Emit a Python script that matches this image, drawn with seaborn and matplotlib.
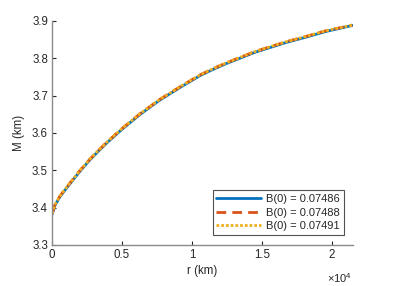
import pandas as pd
import matplotlib
matplotlib.use("Agg")
import matplotlib.pyplot as plt
import seaborn as sns
from matplotlib.ticker import FuncFormatter


# ======================================================
# DATA
# ======================================================
r_km = [0, 200, 550, 1270, 2000, 2700, 3300, 3900, 5000, 6300, 7700,
        9200, 10600, 11500, 12400, 14500, 16700, 18000, 19600, 21480]

m_b07486 = [3.382, 3.406, 3.429, 3.464, 3.498, 3.528, 3.551, 3.573, 3.610, 3.650, 3.688,
            3.723, 3.754, 3.770, 3.785, 3.816, 3.842, 3.855, 3.872, 3.888]
m_b07488 = [3.384, 3.408, 3.431, 3.466, 3.500, 3.530, 3.553, 3.575, 3.612, 3.652, 3.690,
            3.725, 3.756, 3.772, 3.787, 3.818, 3.844, 3.857, 3.874, 3.889]
m_b07491 = [3.384, 3.408, 3.431, 3.466, 3.500, 3.530, 3.553, 3.575, 3.612, 3.652, 3.690,
            3.725, 3.756, 3.772, 3.787, 3.818, 3.844, 3.857, 3.874, 3.889]

labels = ["B(0) = 0.07486", "B(0) = 0.07488", "B(0) = 0.07491"]
colors = ["#0072BD", "#D95319", "#EDB120"]

y_ticks = [3.3, 3.4, 3.5, 3.6, 3.7, 3.8, 3.9]
x_ticks = [0, 5000, 10000, 15000, 20000]


# ======================================================
# BUILD LONG TABLE
# ======================================================
def build_table():
    frames = []
    for lab, vals in zip(labels, [m_b07486, m_b07488, m_b07491]):
        frames.append(pd.DataFrame({"r": r_km, "M": vals, "series": lab}))
    return pd.concat(frames, ignore_index=True)


# ======================================================
# PLOT
# ======================================================
def plot_mass():
    sns.set_style("ticks")
    plt.rcParams["font.family"] = ["Liberation Sans", "DejaVu Sans"]
    plt.rcParams["mathtext.fontset"] = "custom"
    plt.rcParams["mathtext.rm"] = "Liberation Sans"

    df = build_table()

    fig = plt.figure(figsize=(3.99, 2.86), dpi=100)
    ax = fig.add_axes([0.1308, 0.1434, 0.7527, 0.7832])

    sns.lineplot(
        data=df, x="r", y="M", hue="series", style="series",
        palette=dict(zip(labels, colors)),
        dashes={labels[0]: "", labels[1]: (3.5, 2.2), labels[2]: (1, 0.7)},
        linewidth=2.0, ax=ax, estimator=None, sort=False,
    )

    ax.set_xlim(0, 21500)
    ax.set_ylim(3.3, 3.9)
    ax.set_yticks(y_ticks)
    ax.set_xticks(x_ticks)
    ax.xaxis.set_major_formatter(FuncFormatter(lambda v, p: f"{v / 1e4:g}"))
    ax.yaxis.set_major_formatter(FuncFormatter(lambda v, p: f"{v:.1f}"))

    grey = "#262626"
    for s in ["top", "right"]:
        ax.spines[s].set_visible(False)
    for s in ["left", "bottom"]:
        ax.spines[s].set_color("#8a8a8a")
        ax.spines[s].set_linewidth(1.0)
    ax.tick_params(direction="in", length=3, width=0.8, color=grey,
                   labelsize=8.3, labelcolor=grey, pad=3)

    ax.set_xlabel("r (km)", fontsize=8.3, color=grey, labelpad=3)
    ax.set_ylabel("M (km)", fontsize=8.3, color=grey, labelpad=5)
    ax.text(1.0, -0.118, r"$\times$10$^4$", transform=ax.transAxes,
            ha="right", va="top", fontsize=8, color=grey)

    leg = ax.legend(loc="lower right", bbox_to_anchor=(0.972, 0.045),
                    borderaxespad=0, fontsize=8, frameon=True, fancybox=False,
                    handlelength=4.0, handletextpad=0.5, labelspacing=0.3,
                    borderpad=0.35, edgecolor="#262626", title=None)
    leg.get_frame().set_linewidth(0.8)
    for t in leg.get_texts():
        t.set_color(grey)

    fig.savefig("out.png", dpi=100)


if __name__ == "__main__":
    plot_mass()
